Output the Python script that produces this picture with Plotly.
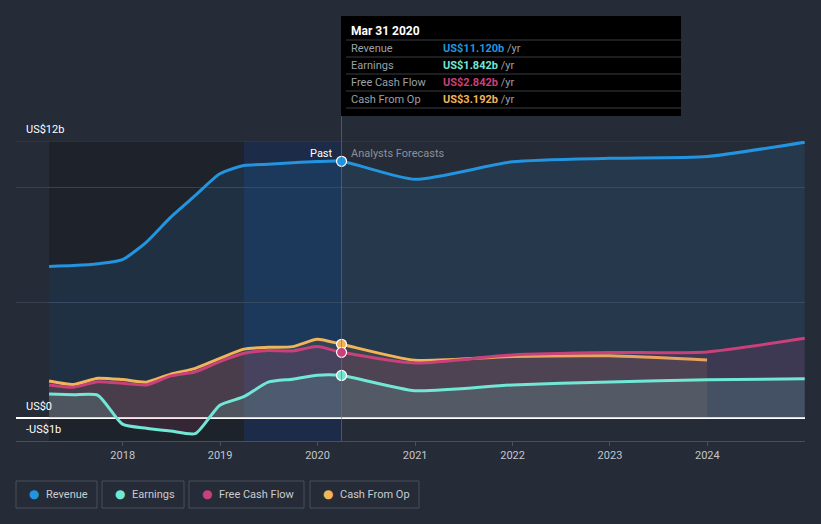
import plotly.graph_objects as go

# ---------------- data (US$ billions) ----------------
dates = ["2017-03-31", "2017-06-30", "2017-09-30", "2017-12-31",
         "2018-03-31", "2018-06-30", "2018-09-30", "2018-12-31",
         "2019-03-31", "2019-06-30", "2019-09-30", "2019-12-31",
         "2020-03-31",
         "2020-12-31", "2021-12-31", "2022-12-31", "2023-12-31", "2024-12-31"]

revenue = [6.56, 6.60, 6.68, 6.86, 7.62, 8.70, 9.64, 10.58, 10.94, 10.99, 11.06, 11.11, 11.12,
           10.34, 11.10, 11.25, 11.33, 11.95]
earnings = [1.04, 1.00, 0.98, -0.27, -0.45, -0.57, -0.68, 0.55, 0.92, 1.55, 1.68, 1.85, 1.842,
            1.18, 1.43, 1.56, 1.65, 1.70]
fcf = [1.43, 1.33, 1.57, 1.50, 1.43, 1.82, 2.00, 2.44, 2.80, 2.92, 2.90, 3.09, 2.842,
       2.38, 2.73, 2.83, 2.86, 3.45]
cfo_dates = dates[:17]
cfo = [1.60, 1.45, 1.72, 1.66, 1.55, 1.90, 2.15, 2.58, 2.98, 3.06, 3.09, 3.41, 3.192,
       2.50, 2.66, 2.69, 2.51]

year_ticks = ["2018", "2019", "2020", "2021", "2022", "2023", "2024"]
now_date = "2020-03-31"
band_start = "2019-03-31"
past_start = "2017-03-31"

tooltip_title = "Mar 31 2020"
tooltip_rows = [("Revenue", "US$11.120b", "#2394df"),
                ("Earnings", "US$1.842b", "#71e7d6"),
                ("Free Cash Flow", "US$2.842b", "#c9407a"),
                ("Cash From Op", "US$3.192b", "#f0b45a")]
legend_names = ["Revenue", "Earnings", "Free Cash Flow", "Cash From Op"]

C_REV, C_EARN, C_FCF, C_CFO = "#2394df", "#71e7d6", "#c9407a", "#f0b45a"
BG = "#252b37"
FONT = "Roboto"

W, H = 821, 524
L, R, T, B = 16, 16, 141, 83
PW, PH = W - L - R, H - T - B


def px(x):
    return (x - L) / PW


def py(y):
    return (H - B - y) / PH


fig = go.Figure()

fig.add_trace(go.Scatter(x=dates, y=revenue, mode="lines", line=dict(color=C_REV, width=3, shape="spline", smoothing=0.6),
                         fill="tozeroy", fillcolor="rgba(35,148,223,0.13)", hoverinfo="skip", showlegend=False))
fig.add_trace(go.Scatter(x=cfo_dates, y=cfo, mode="lines", line=dict(color=C_CFO, width=3, shape="spline", smoothing=0.6),
                         fill="tozeroy", fillcolor="rgba(240,180,90,0.10)", hoverinfo="skip", showlegend=False))
fig.add_trace(go.Scatter(x=dates, y=fcf, mode="lines", line=dict(color=C_FCF, width=3, shape="spline", smoothing=0.6),
                         fill="tozeroy", fillcolor="rgba(201,64,122,0.15)", hoverinfo="skip", showlegend=False))
fig.add_trace(go.Scatter(x=dates, y=earnings, mode="lines", line=dict(color=C_EARN, width=3, shape="spline", smoothing=0.6),
                         fill="tozeroy",
                         fillgradient=dict(type="vertical", start=-1, stop=2,
                                           colorscale=[[0, "rgba(201,64,122,0.13)"], [0.33, "rgba(201,64,122,0.13)"],
                                                       [0.34, "rgba(113,231,214,0.14)"], [1, "rgba(113,231,214,0.14)"]]),
                         hoverinfo="skip", showlegend=False))

# markers at "now"
now_idx = dates.index(now_date)
for vals, col in [(revenue, C_REV), (cfo, C_CFO), (fcf, C_FCF), (earnings, C_EARN)]:
    fig.add_trace(go.Scatter(x=[now_date], y=[vals[now_idx]], mode="markers",
                             marker=dict(color=col, size=10, line=dict(color="white", width=1.2)),
                             hoverinfo="skip", showlegend=False))

shapes = []
# dark past region
shapes.append(dict(type="rect", xref="x", yref="paper", x0=past_start, x1=band_start, y0=0, y1=1,
                   fillcolor="#1e222b", line=dict(width=0), layer="below"))
# highlight band
shapes.append(dict(type="rect", xref="x", yref="paper", x0=band_start, x1=now_date, y0=0, y1=1,
                   fillcolor="rgba(5,45,110,0.32)", line=dict(width=0), layer="below"))
# top gridline at 12b
shapes.append(dict(type="line", xref="paper", yref="y", x0=0, x1=1, y0=12, y1=12,
                   line=dict(color="#394050", width=1), layer="below"))
# vertical now line
shapes.append(dict(type="line", xref="x", yref="paper", x0=now_date, x1=now_date, y0=0, y1=py(16),
                   line=dict(color="rgba(90,120,160,0.6)", width=1)))
# tooltip box
shapes.append(dict(type="rect", xref="paper", yref="paper", x0=px(341), x1=px(681), y0=py(116), y1=py(16),
                   fillcolor="#000000", line=dict(width=0)))
for yy in [40, 57, 74, 91, 108]:
    shapes.append(dict(type="line", xref="paper", yref="paper", x0=px(346), x1=px(681), y0=py(yy), y1=py(yy),
                       line=dict(color="#3a3d42", width=1)))

annotations = []
annotations.append(dict(xref="paper", yref="paper", x=px(349), y=py(31), text="<b>" + tooltip_title + "</b>",
                        showarrow=False, xanchor="left", yanchor="middle", font=dict(color="white", size=12, family=FONT)))
for i, (lab, val, col) in enumerate(tooltip_rows):
    yc = 48.5 + 17 * i
    annotations.append(dict(xref="paper", yref="paper", x=px(349), y=py(yc), text=lab, showarrow=False,
                            xanchor="left", yanchor="middle", font=dict(color="#9ba0a8", size=11, family=FONT)))
    annotations.append(dict(xref="paper", yref="paper", x=px(441), y=py(yc),
                            text="<b><span style='color:%s'>%s</span></b> <span style='color:#9ba0a8'>/yr</span>" % (col, val),
                            showarrow=False, xanchor="left", yanchor="middle", font=dict(size=11, family=FONT)))

# past / forecast labels
annotations.append(dict(xref="x", yref="paper", x=now_date, y=py(153), text="Past", showarrow=False,
                        xanchor="right", yanchor="middle", xshift=-7, font=dict(color="white", size=11, family=FONT)))
annotations.append(dict(xref="x", yref="paper", x=now_date, y=py(153), text="Analysts Forecasts", showarrow=False,
                        xanchor="left", yanchor="middle", xshift=7, font=dict(color="#8b9099", size=11, family=FONT)))

# y labels
for val, txt in [(12, "US$12b"), (0, "US$0"), (-1, "-US$1b")]:
    annotations.append(dict(xref="paper", yref="y", x=px(24), y=val, text=txt, showarrow=False,
                            xanchor="left", yanchor="bottom", yshift=3, font=dict(color="white", size=11, family=FONT)))

# legend boxes
boxes = [(16, 97), (102, 184), (189, 304), (310, 419)]
cols = [C_REV, C_EARN, C_FCF, C_CFO]
for (x0, x1), name, col in zip(boxes, legend_names, cols):
    shapes.append(dict(type="rect", xref="paper", yref="paper", x0=px(x0), x1=px(x1), y0=py(508), y1=py(481),
                       line=dict(color="#4a505b", width=1), fillcolor="rgba(0,0,0,0)"))
    annotations.append(dict(xref="paper", yref="paper", x=px(x0 + 11), y=py(494.5),
                            text="<span style='color:%s'>●</span>" % col, showarrow=False,
                            xanchor="left", yanchor="middle", font=dict(size=12, family="DejaVu Sans")))
    annotations.append(dict(xref="paper", yref="paper", x=px(x0 + 28), y=py(494), text=name, showarrow=False,
                            xanchor="left", yanchor="middle", font=dict(color="#c9ccd1", size=11, family=FONT)))

fig.update_layout(
    width=W, height=H, margin=dict(l=L, r=R, t=T, b=B),
    paper_bgcolor=BG, plot_bgcolor=BG,
    shapes=shapes, annotations=annotations, showlegend=False,
    font=dict(family=FONT, color="white", size=11),
    xaxis=dict(type="date", range=["2016-11-27", "2025-01-01"], tickvals=[y + "-01-01" for y in year_ticks],
               ticktext=year_ticks, showgrid=False, zeroline=False, showline=True, linecolor="#4a505b", linewidth=1,
               ticks="outside", ticklen=4, tickcolor="#4a505b", tickfont=dict(color="#c2c6cc", size=11, family=FONT)),
    yaxis=dict(range=[-1, 12], tickvals=[5, 10], showticklabels=False, gridcolor="#394050", gridwidth=1,
               zeroline=True, zerolinecolor="white", zerolinewidth=1.5, showline=False, fixedrange=True),
)

fig.write_html("out.html", config={"displayModeBar": False},
               post_script="document.body.style.margin='0';document.body.style.background='%s';" % BG)
